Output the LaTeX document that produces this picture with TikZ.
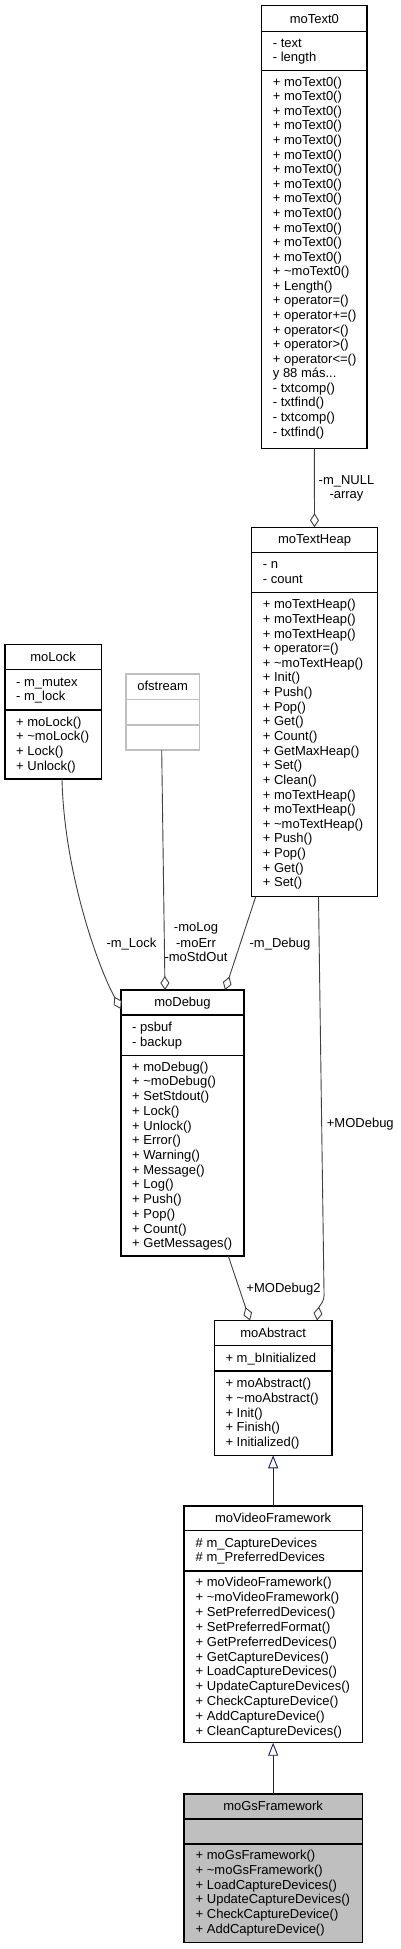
\documentclass[tikz,border=0pt]{standalone}
\usepackage{fontspec}
\setmainfont{Liberation Sans}
\usetikzlibrary{arrows.meta,fit}
\definecolor{edgegray}{HTML}{404040}
\definecolor{inhblue}{HTML}{191970}
\definecolor{grayfill}{HTML}{BFBFBF}
\newcommand\fsz{\fontsize{13}{14.6}\selectfont}
\newcommand\tld{\textasciitilde}
\newcommand\threedots{.{}.{}.}
% prefix, x, first center, spacing, list
\newcommand\rows[5]{%
  \foreach \rtxt [count=\ri from 0] in {#5} {
    \node[mem] (#1-\ri) at (#2, {#3+\ri*#4+4.5}) {\rtxt};
  }}
\begin{document}
\begin{tikzpicture}[x=1pt,y=-1pt,
  box/.style={draw=black, line width=1.1pt, inner sep=0pt, outer sep=0pt},
  boxgray/.style={draw=grayfill, line width=1.1pt, inner sep=0pt, outer sep=0pt},
  sepline/.style={draw=black, line width=1.1pt},
  sepgray/.style={draw=grayfill, line width=1.1pt},
  mem/.style={font=\fsz, anchor=base west, inner sep=0pt},
  ttl/.style={font=\fsz, anchor=base, inner sep=0pt},
  elabel/.style={font=\fsz, anchor=base, inner sep=0pt},
  agg/.style={draw=edgegray, line width=0.9pt, -{Diamond[length=14pt,width=9pt,fill=white]}},
  inh/.style={draw=inhblue, line width=0.9pt, -{Triangle[length=13pt,width=10pt,fill=white]}},
]
\useasboundingbox (0,0) rectangle (400,1949);
\fill[white] (0,0) rectangle (400,1949);

% ---------- moText0 ----------
\node[box, fit={(261.7,5.7) (367,448.7)}] (moText0) {};
\draw[sepline] (261.7,31.7) -- (367,31.7);
\draw[sepline] (261.7,70.7) -- (367,70.7);
\node[ttl] (moText0-title) at (314.35, 23.5) {moText0};
\rows{moText0a}{272.7}{42.7}{14.6}{- text,- length}
\rows{moText0m}{272.7}{81.7}{14.58}{+ moText0(),+ moText0(),+ moText0(),+ moText0(),+ moText0(),+ moText0(),+ moText0(),+ moText0(),+ moText0(),+ moText0(),+ moText0(),+ moText0(),+ moText0(),+ \tld moText0(),+ Length(),+ operator=(),+ operator+=(),+ operator<(),+ operator>(),+ operator<=(),y 88 más\threedots,- txtcomp(),- txtfind(),- txtcomp(),- txtfind()}

% ---------- moTextHeap ----------
\node[box, fit={(251.7,527.3) (377.3,896.7)}] (moTextHeap) {};
\draw[sepline] (251.7,552.7) -- (377.3,552.7);
\draw[sepline] (251.7,592.3) -- (377.3,592.3);
\node[ttl] (moTextHeap-title) at (314.5, 543.5) {moTextHeap};
\rows{moTextHeapa}{262.7}{564.3}{14.7}{- n,- count}
\rows{moTextHeapm}{262.7}{604.3}{14.63}{+ moTextHeap(),+ moTextHeap(),+ moTextHeap(),+ operator=(),+ \tld moTextHeap(),+ Init(),+ Push(),+ Pop(),+ Get(),+ Count(),+ GetMaxHeap(),+ Set(),+ Clean(),+ moTextHeap(),+ moTextHeap(),+ \tld moTextHeap(),+ Push(),+ Pop(),+ Get(),+ Set()}

% ---------- moLock ----------
\node[box, fit={(5,644.7) (101.3,779)}] (moLock) {};
\draw[sepline] (5,669.7) -- (101.3,669.7);
\draw[sepline] (5,710) -- (101.3,710);
\node[ttl] (moLock-title) at (53.15, 661.2) {moLock};
\rows{moLocka}{16}{681.7}{14.4}{- m\_mutex,- m\_lock}
\rows{moLockm}{16}{721.7}{14.67}{+ moLock(),+ \tld moLock(),+ Lock(),+ Unlock()}

% ---------- ofstream ----------
\node[boxgray, fit={(126,674) (199.3,750)}] (ofstream) {};
\draw[sepgray] (126,699.3) -- (199.3,699.3);
\draw[sepgray] (126,725) -- (199.3,725);
\node[ttl] (ofstream-title) at (162.65, 690.2) {ofstream};

% ---------- moDebug ----------
\node[box, fit={(121,990) (244,1256)}] (moDebug) {};
\draw[sepline] (121,1015) -- (244,1015);
\draw[sepline] (121,1055.7) -- (244,1055.7);
\node[ttl] (moDebug-title) at (182.5, 1006.5) {moDebug};
\rows{moDebuga}{132}{1026.7}{15}{- psbuf,- backup}
\rows{moDebugm}{132}{1066.7}{14.72}{+ moDebug(),+ \tld moDebug(),+ SetStdout(),+ Lock(),+ Unlock(),+ Error(),+ Warning(),+ Message(),+ Log(),+ Push(),+ Pop(),+ Count(),+ GetMessages()}

% ---------- moAbstract ----------
\node[box, fit={(214.3,1320.5) (332,1455.3)}] (moAbstract) {};
\draw[sepline] (214.3,1345.7) -- (332,1345.7);
\draw[sepline] (214.3,1371) -- (332,1371);
\node[ttl] (moAbstract-title) at (273.15, 1337) {moAbstract};
\rows{moAbstracta}{225.3}{1357.7}{14.6}{+ m\_bInitialized}
\rows{moAbstractm}{225.3}{1383.3}{14.6}{+ moAbstract(),+ \tld moAbstract(),+ Init(),+ Finish(),+ Initialized()}

% ---------- moVideoFramework ----------
\node[box, fit={(184,1506) (362.3,1742.7)}] (moVideoFramework) {};
\draw[sepline] (184,1530.7) -- (362.3,1530.7);
\draw[sepline] (184,1571) -- (362.3,1571);
\node[ttl] (moVideoFramework-title) at (273.15, 1522.3) {moVideoFramework};
\rows{moVideoFrameworka}{195.5}{1542.7}{14.6}{\# m\_CaptureDevices,\# m\_PreferredDevices}
\rows{moVideoFrameworkm}{195.5}{1582.3}{14.84}{+ moVideoFramework(),+ \tld moVideoFramework(),+ SetPreferredDevices(),+ SetPreferredFormat(),+ GetPreferredDevices(),+ GetCaptureDevices(),+ LoadCaptureDevices(),+ UpdateCaptureDevices(),+ CheckCaptureDevice(),+ AddCaptureDevice(),+ CleanCaptureDevices()}

% ---------- moGsFramework ----------
\node[box, fill=grayfill, fit={(184,1794) (362.3,1942.7)}] (moGsFramework) {};
\draw[sepline] (184,1819) -- (362.3,1819);
\draw[sepline] (184,1844) -- (362.3,1844);
\node[ttl] (moGsFramework-title) at (273.15, 1810.5) {moGsFramework};
\rows{moGsFrameworkm}{195.5}{1855}{14.74}{+ moGsFramework(),+ \tld moGsFramework(),+ LoadCaptureDevices(),+ UpdateCaptureDevices(),+ CheckCaptureDevice(),+ AddCaptureDevice()}

% ---------- connectors ----------
\draw[agg] (moText0.south) -- (moTextHeap.north);
\node[elabel] (lbl-mnull) at (346.5, 484.5) {-m\_NULL};
\node[elabel] (lbl-array) at (346.5, 498.5) {-array};

\draw[agg] ([xshift=57pt]moLock.south west) .. controls (64,870) and (97,965) .. ([yshift=-19pt]moDebug.north west);
\node[elabel] (lbl-mlock) at (131.5, 947.2) {-m\_Lock};

\draw[agg] ([xshift=35.7pt]ofstream.south west) -- ([xshift=44pt]moDebug.north west);
\node[elabel] (lbl-molog) at (196, 931.8) {-moLog};
\node[elabel] (lbl-moerr) at (196, 947.2) {-moErr};
\node[elabel] (lbl-mostdout) at (196, 961.2) {-moStdOut};

\draw[agg] ([xshift=4pt]moTextHeap.south west) -- ([xshift=-19pt]moDebug.north east);
\node[elabel] (lbl-mdebug) at (280, 947.2) {-m\_Debug};

\draw[agg] ([xshift=66.8pt]moTextHeap.south west) -- (324,1292) .. controls (325,1302) and (319,1306) .. ([xshift=-15pt]moAbstract.north east);
\node[elabel] (lbl-modebug) at (360.3, 1127.2) {+MODebug};

\draw[agg] ([xshift=107.3pt]moDebug.south west) -- ([xshift=35.7pt]moAbstract.north west);
\node[elabel] (lbl-modebug2) at (283.5, 1292.8) {+MODebug2};

\draw[inh] (moVideoFramework.north) -- (moAbstract.south);
\draw[inh] (moGsFramework.north) -- (moVideoFramework.south);
\end{tikzpicture}
\end{document}
